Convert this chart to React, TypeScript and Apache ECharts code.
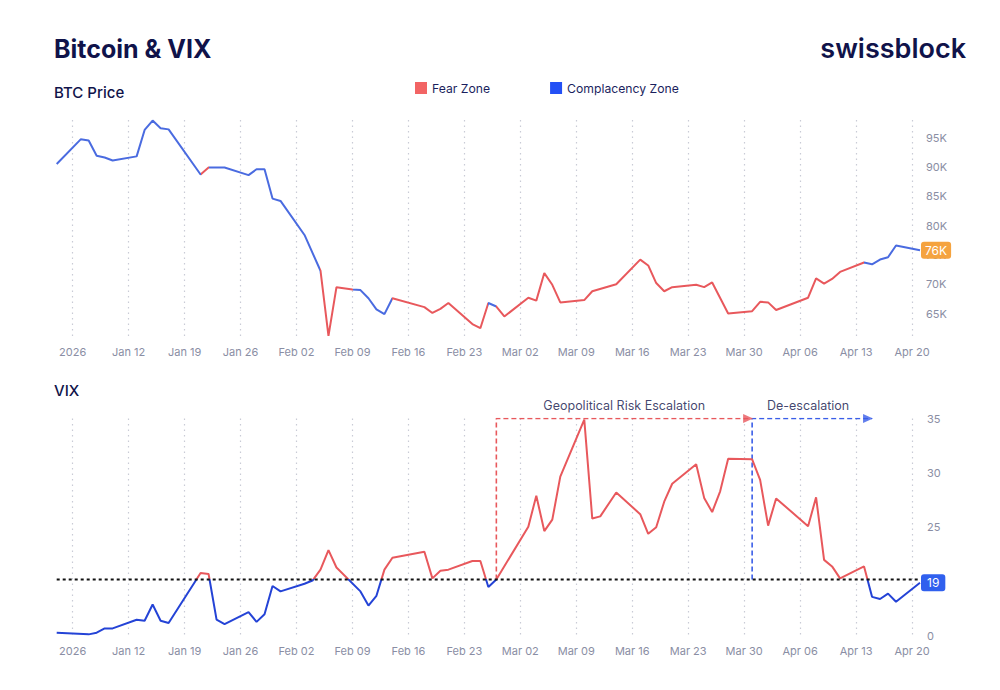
import React, { useEffect, useRef } from "react";
import * as echarts from "echarts";

// Day index: days since 2026-01-01 (Jan 1 = 0). Data runs daily from day 2 (Jan 3) to day 110 (Apr 21).
const FIRST_DAY = 2;
const LAST_DAY = 110;
const TICK_DAYS = [4, 11, 18, 25, 32, 39, 46, 53, 60, 67, 74, 81, 88, 95, 102, 109];
const TICK_LABELS = ["2026", "Jan 12", "Jan 19", "Jan 26", "Feb 02", "Feb 09", "Feb 16", "Feb 23", "Mar 02", "Mar 09", "Mar 16", "Mar 23", "Mar 30", "Apr 06", "Apr 13", "Apr 20"];

const BTC_DAYS = [2, 5, 6, 7, 8, 9, 12, 13, 14, 15, 16, 20, 21, 23, 26, 27, 28, 29, 30, 33, 35, 36, 37, 39, 40, 41, 42, 43, 44, 48, 49, 50, 51, 54, 55, 56, 57, 58, 61, 62, 63, 64, 65, 68, 69, 72, 75, 76, 77, 78, 79, 82, 83, 84, 86, 89, 90, 91, 92, 96, 97, 98, 99, 100, 103, 104, 105, 106, 107, 110];
const BTC_K = [90.5, 94.7, 94.5, 91.9, 91.6, 91.1, 91.8, 96.3, 97.9, 96.6, 96.4, 88.7, 89.9, 89.9, 88.6, 89.6, 89.6, 84.6, 84.2, 78.4, 72.3, 61.2, 69.5, 69.1, 69.0, 67.6, 65.7, 64.9, 67.6, 66.1, 65.1, 65.8, 66.8, 63.2, 62.5, 66.8, 66.2, 64.5, 67.7, 67.2, 71.9, 69.9, 66.9, 67.3, 68.8, 70.0, 74.2, 73.2, 70.2, 68.8, 69.5, 69.9, 69.5, 70.3, 65.0, 65.4, 67.0, 66.9, 65.6, 67.7, 71.0, 70.1, 70.9, 72.1, 73.7, 73.4, 74.2, 74.6, 76.6, 75.8];

const VIX_DAYS = [2, 6, 7, 8, 9, 12, 13, 14, 15, 16, 20, 21, 22, 23, 26, 27, 28, 29, 30, 33, 34, 35, 36, 37, 40, 41, 42, 43, 44, 48, 49, 50, 51, 54, 55, 56, 57, 61, 62, 63, 64, 65, 68, 69, 70, 72, 75, 76, 77, 78, 79, 82, 83, 84, 85, 86, 89, 90, 91, 92, 96, 97, 98, 99, 100, 103, 104, 105, 106, 107, 110];
const VIX = [15.3, 15.15, 15.3, 15.7, 15.7, 16.5, 16.4, 17.9, 16.4, 16.2, 20.8, 20.7, 16.5, 16.1, 17.2, 16.3, 17.0, 19.6, 19.1, 19.8, 20.1, 21.1, 22.9, 21.3, 19.1, 17.8, 18.7, 21.1, 22.2, 22.75, 20.3, 21.0, 21.1, 21.9, 21.9, 19.5, 20.2, 25.05, 27.9, 24.65, 25.7, 29.65, 34.9, 25.8, 26.0, 28.2, 26.2, 24.4, 25.0, 27.35, 29.0, 30.8, 27.7, 26.4, 28.3, 31.3, 31.25, 29.35, 25.15, 27.65, 25.1, 27.75, 22.0, 21.4, 20.3, 21.4, 18.6, 18.4, 18.9, 18.15, 19.9];

const VIX_THRESHOLD = 20.2;
const FEAR_RANGES = [[20, 21], [35, 39], [44, 56], [57, 103]];
const VIX_TOP = 35;
const ESCALATION = { start: 57, end: 89, label: "Geopolitical Risk Escalation" };
const DEESCALATION = { start: 89, end: 104, label: "De-escalation" };

const RED = "#e8585c";
const BLUE_TOP = "#4a6be0";
const BLUE_BOTTOM = "#2443d6";
const ANNO_BLUE = "#3a5ee8";
const NAVY = "#10134a";
const GRAY = "#8a8ea4";
const FONT = "Inter";

const DAY_CATEGORIES: string[] = [];
for (let d = FIRST_DAY; d <= LAST_DAY; d++) DAY_CATEGORIES.push(String(d));

function buildOption() {
  const idx = (d: number) => d - FIRST_DAY;
  const pieces: any[] = [];
  let prev = -1000;
  FEAR_RANGES.forEach(([a, b]) => {
    if (idx(a) > prev) pieces.push({ gte: prev, lt: idx(a), color: BLUE_TOP });
    pieces.push({ gte: idx(a), lt: idx(b), color: RED });
    prev = idx(b);
  });
  pieces.push({ gte: prev, lt: 10000, color: BLUE_TOP });

  const isTick = (_i: number, v: string) => TICK_DAYS.indexOf(Number(v)) >= 0;

  const xAxisBase = (gridIndex: number) => ({
    type: "category",
    gridIndex,
    data: DAY_CATEGORIES,
    boundaryGap: false,
    axisLine: { show: false },
    axisTick: { show: false },
    axisLabel: {
      interval: isTick,
      color: GRAY,
      fontSize: 11,
      margin: 9,
      fontFamily: FONT,
      formatter: (v: string) => {
        const i = TICK_DAYS.indexOf(Number(v));
        return i >= 0 ? TICK_LABELS[i] : "";
      },
    },
    splitLine: {
      show: true,
      interval: isTick,
      lineStyle: { color: "#c9cbd6", width: 1.2, type: [1.5, 4] },
    },
  });

  const dash = (color: string) => ({ color, width: 1.6, type: [5, 3] });
  const c = (d: number) => String(d);

  const bracket = (a: { start: number; end: number }, color: string) => ({
    type: "line",
    xAxisIndex: 1,
    yAxisIndex: 1,
    silent: true,
    showSymbol: false,
    symbol: "none",
    lineStyle: dash(color),
    itemStyle: { color },
    data: [[c(a.start), VIX_THRESHOLD], [c(a.start), VIX_TOP], [c(a.end), VIX_TOP]],
    z: 3,
  });

  return {
    animation: false,
    textStyle: { fontFamily: FONT },
    title: [
      { text: "Bitcoin & VIX", left: 54, top: 36, padding: 0, textStyle: { fontSize: 25, fontWeight: 700, color: NAVY, fontFamily: FONT } },
      { text: "swissblock", right: 34, top: 35, padding: 0, textStyle: { fontSize: 27, fontWeight: 600, color: NAVY, fontFamily: FONT } },
      { text: "BTC Price", left: 54, top: 85, padding: 0, textStyle: { fontSize: 15, fontWeight: 500, color: NAVY, fontFamily: FONT } },
      { text: "VIX", left: 54, top: 383, padding: 0, textStyle: { fontSize: 15, fontWeight: 500, color: NAVY, fontFamily: FONT } },
    ],
    legend: {
      data: ["Fear Zone", "Complacency Zone"],
      left: 415,
      top: 82,
      padding: 0,
      icon: "rect",
      itemWidth: 12,
      itemHeight: 12,
      itemGap: 60,
      textStyle: { fontSize: 12.2, color: "#1b1f5e", fontFamily: FONT },
    },
    grid: [
      { left: 56.7, right: 80, top: 120, height: 217 },
      { left: 56.7, right: 80, top: 418.5, height: 217.5 },
    ],
    xAxis: [xAxisBase(0), xAxisBase(1)],
    yAxis: [
      {
        type: "value",
        gridIndex: 0,
        position: "right",
        min: 61,
        max: 98,
        splitNumber: 7,
        axisLine: { show: false },
        axisTick: { show: false },
        splitLine: { show: false },
        axisLabel: {
          color: GRAY,
          fontSize: 11,
          margin: 6,
          fontFamily: FONT,
          formatter: (v: number) => (Math.abs(v % 5) < 1e-6 ? `${v}K` : ""),
        },
      },
      {
        type: "value",
        gridIndex: 1,
        position: "right",
        min: 15,
        max: 35,
        interval: 5,
        axisLine: { show: false },
        axisTick: { show: false },
        splitLine: { show: false },
        axisLabel: { color: GRAY, fontSize: 11, margin: 7, fontFamily: FONT, formatter: (v: number) => (v <= 15 ? "0" : String(v)) },
      },
    ],
    visualMap: [
      { show: false, type: "piecewise", seriesIndex: 0, dimension: 0, pieces, outOfRange: { color: BLUE_TOP } },
      {
        show: false,
        type: "piecewise",
        seriesIndex: 1,
        dimension: 1,
        pieces: [
          { gte: 0, lte: VIX_THRESHOLD, color: BLUE_BOTTOM },
          { gt: VIX_THRESHOLD, lte: 100, color: RED },
        ],
        outOfRange: { color: BLUE_BOTTOM },
      },
    ],
    series: [
      {
        name: "BTC",
        type: "line",
        xAxisIndex: 0,
        yAxisIndex: 0,
        data: BTC_DAYS.map((d, i) => [c(d), BTC_K[i]]),
        showSymbol: false,
        lineStyle: { width: 2 },
        z: 4,
        endLabel: {
          show: true,
          formatter: (p: any) => `${Math.round(p.value[1])}K`,
          backgroundColor: "#f5a33f",
          color: "#fff",
          fontSize: 12,
          fontFamily: FONT,
          padding: [3, 4, 2, 4],
          borderRadius: 3,
          distance: 1,
        },
      },
      {
        name: "VIX",
        type: "line",
        xAxisIndex: 1,
        yAxisIndex: 1,
        data: VIX_DAYS.map((d, i) => [c(d), VIX[i]]),
        showSymbol: false,
        lineStyle: { width: 2 },
        z: 4,
        endLabel: {
          show: true,
          formatter: (p: any) => `${Math.floor(p.value[1])}`,
          backgroundColor: "#3060ee",
          color: "#fff",
          fontSize: 12,
          fontFamily: FONT,
          padding: [3, 6, 2, 6],
          borderRadius: 3,
          distance: 1,
        },
      },
      { name: "Fear Zone", type: "line", xAxisIndex: 0, yAxisIndex: 0, data: [], itemStyle: { color: "#f26464" }, lineStyle: { color: "#f26464" } },
      { name: "Complacency Zone", type: "line", xAxisIndex: 0, yAxisIndex: 0, data: [], itemStyle: { color: "#2350f5" }, lineStyle: { color: "#2350f5" } },
      // threshold line
      {
        type: "line",
        xAxisIndex: 1,
        yAxisIndex: 1,
        silent: true,
        showSymbol: false,
        symbol: "none",
        lineStyle: { color: "#111", width: 2, type: [3, 3] },
        itemStyle: { color: "#111" },
        data: [[c(FIRST_DAY), VIX_THRESHOLD], [c(LAST_DAY), VIX_THRESHOLD]],
        z: 5,
      },
      bracket(ESCALATION, RED),
      bracket(DEESCALATION, ANNO_BLUE),
      // arrow heads
      {
        type: "scatter",
        xAxisIndex: 1,
        yAxisIndex: 1,
        silent: true,
        symbol: "triangle",
        symbolSize: [9, 10],
        symbolRotate: -90,
        symbolOffset: [-4, 0],
        data: [
          { value: [c(ESCALATION.end), VIX_TOP], itemStyle: { color: RED } },
          { value: [c(DEESCALATION.end), VIX_TOP], itemStyle: { color: ANNO_BLUE } },
        ],
        z: 6,
      },
      // annotation labels
      {
        type: "scatter",
        xAxisIndex: 1,
        yAxisIndex: 1,
        silent: true,
        symbolSize: 0,
        itemStyle: { color: "transparent" },
        label: {
          show: true,
          position: "top",
          distance: 7,
          color: NAVY,
          fontSize: 12.5,
          fontFamily: FONT,
          formatter: (p: any) => p.name,
        },
        data: [ESCALATION, DEESCALATION].map((a) => ({
          name: a.label,
          value: [c(Math.floor((a.start + a.end) / 2)), VIX_TOP],
        })),
        z: 6,
      },
    ],
  };
}

export default function App() {
  const ref = useRef<HTMLDivElement>(null);
  useEffect(() => {
    document.body.style.margin = "0";
    const chart = echarts.init(ref.current as HTMLDivElement, null, { renderer: "svg" });
    chart.setOption(buildOption() as any);
    return () => chart.dispose();
  }, []);
  return <div ref={ref} style={{ width: 1000, height: 690, background: "#fff" }} />;
}
